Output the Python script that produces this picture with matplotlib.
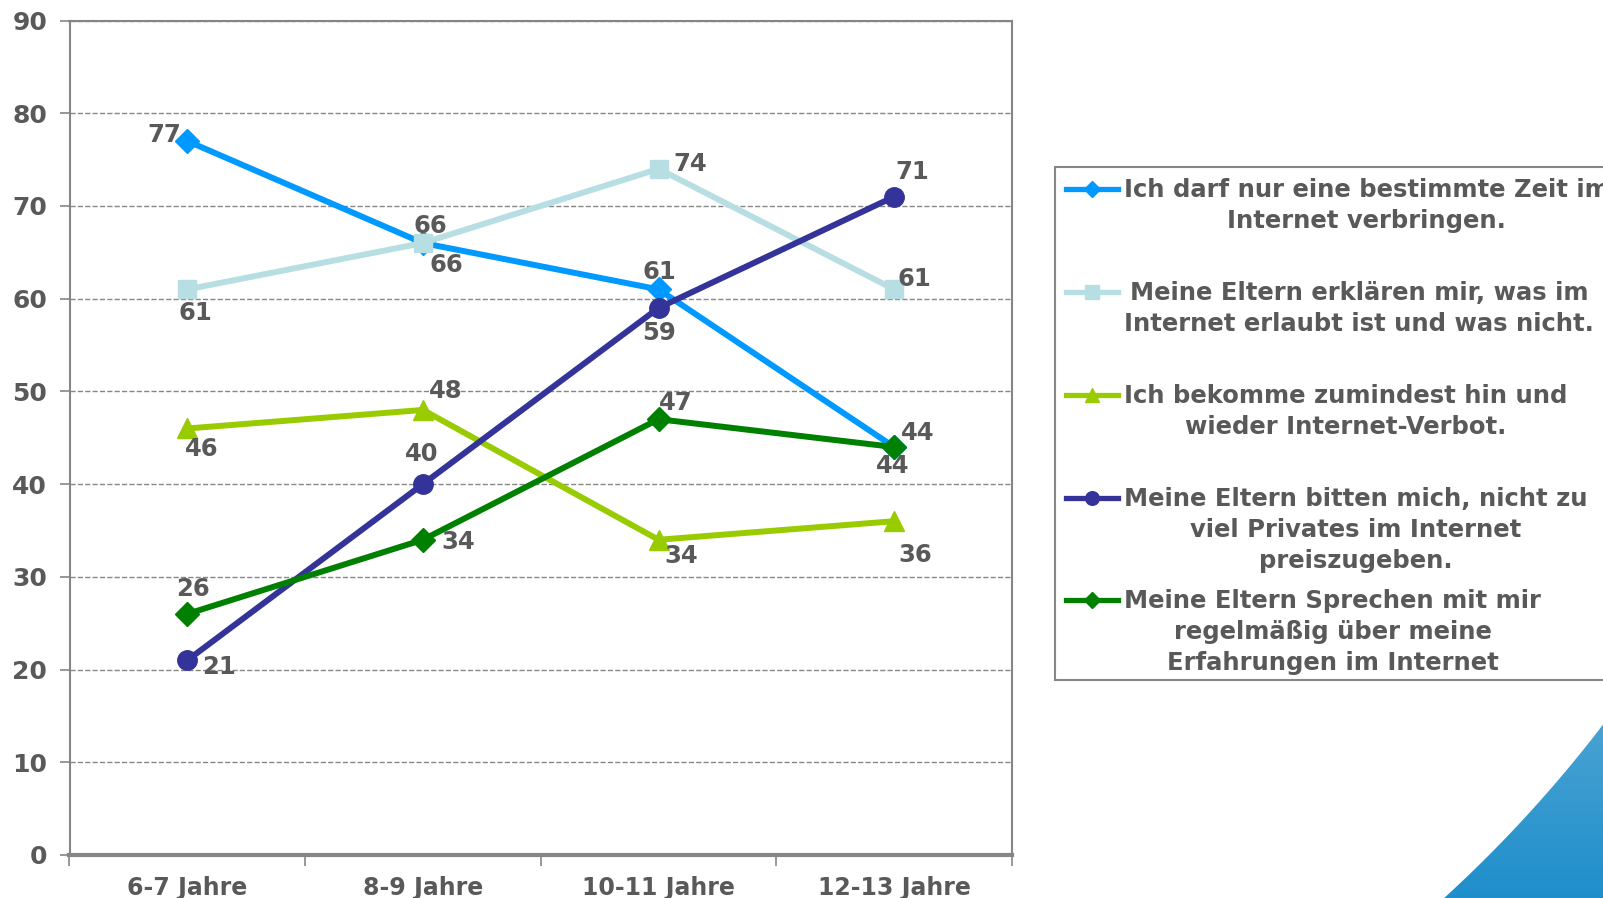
import matplotlib.pyplot as plt
import numpy as np
from matplotlib.lines import Line2D
from matplotlib.patches import Rectangle, Polygon
from matplotlib.colors import LinearSegmentedColormap

categories = ['6-7 Jahre', '8-9 Jahre', '10-11 Jahre', '12-13 Jahre']
zeit = [77, 66, 61, 44]
erklaeren = [61, 66, 74, 61]
verbot = [46, 48, 34, 36]
privates = [21, 40, 59, 71]
sprechen = [26, 34, 47, 44]

series_labels = [
    'Ich darf nur eine bestimmte Zeit im\nInternet verbringen.',
    'Meine Eltern erklären mir, was im\nInternet erlaubt ist und was nicht.',
    'Ich bekomme zumindest hin und\nwieder Internet-Verbot.',
    'Meine Eltern bitten mich, nicht zu\nviel Privates im Internet\npreiszugeben.',
    'Meine Eltern Sprechen mit mir\nregelmäßig über meine\nErfahrungen im Internet',
]

W, H = 1603, 898
TXT = '#595959'
GRAY = '#868686'

# style per series: colour, marker, marker size
styles = [
    ('#0099FF', 'D', 12),
    ('#B7DEE3', 's', 13.5),
    ('#99CC00', '^', 14),
    ('#333399', 'o', 14),
    ('#008000', 'D', 12),
]
# label offsets in pixels (dx right, dy up) for every point
offsets = [
    [(-23, 6), (23, -22), (1, 17), (-2, -19)],
    [(8, -24), (7, 17), (32, 5), (20, 10)],
    [(14, -21), (23, 19), (23, -16), (21, -34)],
    [(32, -7), (-1, 30), (1, -25), (18, 25)],
    [(6, 25), (35, -2), (17, 16), (23, 14)],
]

fig = plt.figure(figsize=(W / 100, H / 100), dpi=100)
fig.patch.set_facecolor('white')

def fx(px):
    return px / W

def fy(py):
    return 1 - py / H

ax = fig.add_axes([fx(69.5), fy(855), fx(1012) - fx(69.5), fy(20.5) - fy(855)])
x = np.arange(len(categories))
data = [zeit, erklaeren, verbot, privates, sprechen]

ax.set_ylim(0, 90)
ax.set_xlim(-0.5, len(categories) - 0.5)
ax.set_yticks(range(0, 91, 10))
ax.yaxis.grid(True, linestyle='--', color=GRAY, linewidth=1)
ax.set_axisbelow(True)

for vals, (col, mk, ms), offs in zip(data, styles, offsets):
    ax.plot(x, vals, color=col, linewidth=4.3, marker=mk, markersize=ms,
            markeredgecolor=col, zorder=3, clip_on=False)
    for xi, v, (dx, dy) in zip(x, vals, offs):
        ax.annotate(str(v), (xi, v), xytext=(dx, dy), textcoords='offset pixels',
                    ha='center', va='center', fontsize=17.5, fontweight='bold',
                    color=TXT, zorder=4)

for s in ['left', 'right', 'top']:
    ax.spines[s].set_color(GRAY)
    ax.spines[s].set_linewidth(1.5)
ax.spines['bottom'].set_color(GRAY)
ax.spines['bottom'].set_linewidth(3)

ax.set_xticks(x)
ax.set_xticklabels(categories, fontsize=17, fontweight='bold', color=TXT)
ax.set_xticks(np.arange(-0.5, len(categories), 1), minor=True)
ax.tick_params(axis='x', which='major', length=0, pad=15)
ax.tick_params(axis='x', which='minor', length=8, color=GRAY, width=1.2, direction='out')
ax.tick_params(axis='y', length=7, color=GRAY, width=1.2, pad=9,
               labelsize=18, labelcolor=TXT)
for t in ax.get_yticklabels():
    t.set_fontweight('bold')

# legend drawn by hand
fig.add_artist(Rectangle((fx(1055), fy(680)), fx(1640) - fx(1055), fy(167) - fy(680),
                         transform=fig.transFigure, facecolor='white',
                         edgecolor=GRAY, linewidth=1.5))
legend_y = [189, 292, 395, 498, 600]
for lab, (col, mk, ms), ly in zip(series_labels, styles, legend_y):
    fig.add_artist(Line2D([fx(1066), fx(1118)], [fy(ly), fy(ly)], color=col,
                          linewidth=3.8, transform=fig.transFigure))
    fig.add_artist(Line2D([fx(1092)], [fy(ly)], color=col, marker=mk,
                          markersize=ms * 0.7, transform=fig.transFigure))
    fig.text(fx(1124), fy(ly - 11), lab, ha='left', va='top',
             multialignment='center', fontsize=17.5, fontweight='bold',
             color=TXT, linespacing=1.38)

# blue swoosh in the corner
sw = fig.add_axes([0, 0, 1, 1], zorder=-1)
grad = np.linspace(0, 1, 200).reshape(-1, 1)
cmap = LinearSegmentedColormap.from_list('sw', ['#4FA5D4', '#1E8ECB'])
im = sw.imshow(grad, extent=[1400, W + 2, H + 2, 700], aspect='auto', cmap=cmap,
               origin='upper')
sw.set_xlim(0, W)
sw.set_ylim(H, 0)
sw.axis('off')
t = np.linspace(0, 1, 40)[:, None]
p0, p1, p2 = np.array([1442, H + 2]), np.array([1532, 818]), np.array([W + 2, 722])
edge = (1 - t) ** 2 * p0 + 2 * (1 - t) * t * p1 + t ** 2 * p2
shape = Polygon(np.vstack([edge, [[W + 2, H + 2]]]), closed=True, facecolor='none',
                edgecolor='none', transform=sw.transData)
sw.add_patch(shape)
im.set_clip_path(shape)

fig.savefig('out.png', dpi=100)
